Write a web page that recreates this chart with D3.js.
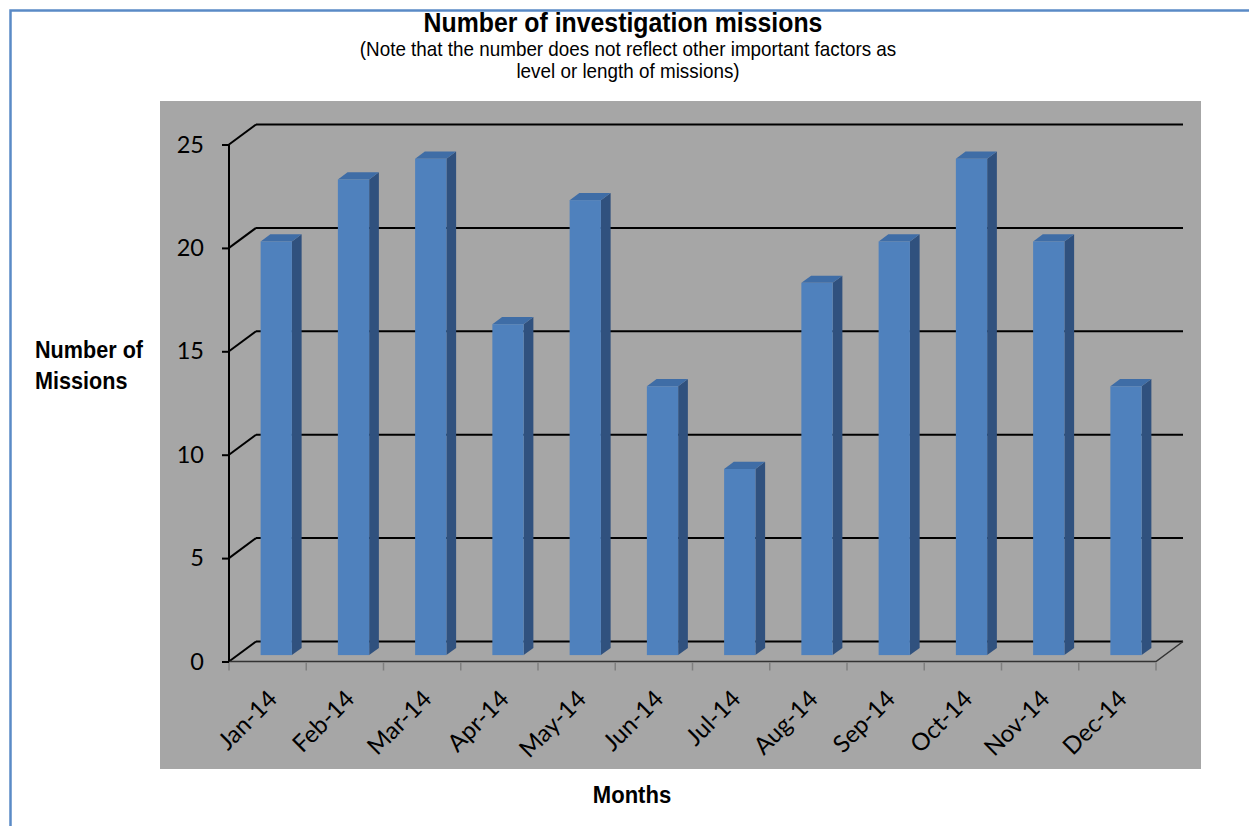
<!DOCTYPE html>
<html>
<head>
<meta charset="utf-8">
<script src="https://cdn.jsdelivr.net/npm/d3@7"></script>
<style>
  html, body { margin: 0; padding: 0; background: #fff; }
  svg { display: block; }
  .narrow { font-family: "Liberation Sans", Arial, sans-serif; }
  .tick { font-family: Lato, "Open Sans", sans-serif; }
</style>
</head>
<body>
<svg id="chart" width="1249" height="826"></svg>
<script>
const categories = ["Jan-14","Feb-14","Mar-14","Apr-14","May-14","Jun-14","Jul-14","Aug-14","Sep-14","Oct-14","Nov-14","Dec-14"];
const missions = [20, 23, 24, 16, 22, 13, 9, 18, 20, 24, 20, 13];
const yTicks = [0, 5, 10, 15, 20, 25];
const titleText = "Number of investigation missions";
const subtitleLines = ["(Note that the number does not reflect other important factors as", "level or length of missions)"];
const yTitleLines = ["Number of", "Missions"];
const xTitleText = "Months";

const svg = d3.select("#chart");
const W = 1249, H = 826;
const SX = 0.92; // condensed look (Arial Narrow-like)

// outer border (left & top)
svg.append("path")
  .attr("d", `M10.5,${H} L10.5,10.5 L${W},10.5`)
  .attr("fill", "none").attr("stroke", "#5a8ac6").attr("stroke-width", 2.5);

// plot area background
svg.append("rect").attr("x", 160).attr("y", 101).attr("width", 1041).attr("height", 668).attr("fill", "#a6a6a6");

// 3D geometry
const x0 = 229, x1 = 1156;
const dX = 27, dY = -20;
const x = d3.scaleBand().domain(categories).range([x0, x1]).padding(0);
const y = d3.scaleLinear().domain([0, 25]).range([661.5, 144.5]);
const band = x.bandwidth();

const g = svg.append("g");

// back wall gridlines
g.selectAll(".grid").data(yTicks).join("line")
  .attr("x1", x0 + dX).attr("x2", x1 + dX)
  .attr("y1", d => y(d) + dY).attr("y2", d => y(d) + dY)
  .attr("stroke", "#000").attr("stroke-width", 2);

// left wall diagonals
g.selectAll(".diag").data(yTicks).join("line")
  .attr("x1", x0).attr("x2", x0 + dX)
  .attr("y1", d => y(d)).attr("y2", d => y(d) + dY)
  .attr("stroke", "#000").attr("stroke-width", 2);

// floor front edge and right diagonal
g.append("path")
  .attr("d", `M${x0},${y(0)} L${x1},${y(0)} L${x1 + dX},${y(0) + dY}`)
  .attr("fill", "none").attr("stroke", "#333").attr("stroke-width", 1.5);

// x ticks
g.selectAll(".xt").data(d3.range(categories.length + 1)).join("line")
  .attr("x1", i => x0 + i * band).attr("x2", i => x0 + i * band)
  .attr("y1", y(0) + 1).attr("y2", y(0) + 9)
  .attr("stroke", "#7f7f7f").attr("stroke-width", 1.5);

// y axis
const yAxis = d3.axisLeft(y).tickValues(yTicks).tickSize(7).tickPadding(18);
const ya = svg.append("g").attr("transform", `translate(${x0},0)`).call(yAxis);
ya.select(".domain").attr("stroke", "#000").attr("stroke-width", 2).attr("d", `M0,${y(0)}V${y(25)}`);
ya.selectAll(".tick line").attr("stroke", "#000").attr("stroke-width", 2);
ya.selectAll(".tick text").attr("class", "tick").attr("font-size", 23.5).attr("fill", "#000");

// bars
const f0 = 0.32, f1 = 0.68, wFrac = 0.405;
const bw = band * wFrac;
const bars = svg.append("g").selectAll("g").data(categories.map((c, i) => ({c, v: missions[i]}))).join("g");
bars.each(function(d) {
  const gg = d3.select(this);
  const fx = x(d.c) + band / 2 - bw / 2 + f0 * dX;
  const fyTop = y(d.v) + f0 * dY;
  const fyBot = y(0) + f0 * dY;
  const ddx = (f1 - f0) * dX, ddy = (f1 - f0) * dY;
  gg.append("path")
    .attr("d", `M${fx + bw},${fyTop} L${fx + bw + ddx},${fyTop + ddy} L${fx + bw + ddx},${fyBot + ddy} L${fx + bw},${fyBot} Z`)
    .attr("fill", "#30517e");
  gg.append("path")
    .attr("d", `M${fx},${fyTop} L${fx + ddx},${fyTop + ddy} L${fx + bw + ddx},${fyTop + ddy} L${fx + bw},${fyTop} Z`)
    .attr("fill", "#3f6da6");
  gg.append("rect").attr("x", fx).attr("y", fyTop).attr("width", bw).attr("height", fyBot - fyTop)
    .attr("fill", "#4f81bd");
});

// x tick labels
svg.append("g").selectAll("text").data(categories).join("text")
  .attr("class", "tick")
  .attr("font-size", 24)
  .attr("text-anchor", "end")
  .attr("transform", d => `translate(${x(d) + band / 2 + 11},${y(0) + 39}) rotate(-45)`)
  .text(d => d);

// titles (condensed)
svg.append("text").attr("class", "narrow")
  .attr("transform", `translate(623,32) scale(${SX},1)`)
  .attr("text-anchor", "middle").attr("font-weight", "bold").attr("font-size", 27).text(titleText);
svg.append("g").selectAll("text").data(subtitleLines).join("text")
  .attr("class", "narrow")
  .attr("transform", (d, i) => `translate(628,${56 + i * 22}) scale(${SX},1)`)
  .attr("text-anchor", "middle").attr("font-size", 20.5).text(d => d);

svg.append("g").selectAll("text").data(yTitleLines).join("text")
  .attr("class", "narrow")
  .attr("transform", (d, i) => `translate(35,${358 + i * 31}) scale(${SX},1)`)
  .attr("font-weight", "bold").attr("font-size", 23.5).text(d => d);

svg.append("text").attr("class", "narrow")
  .attr("transform", `translate(632,803) scale(${SX},1)`)
  .attr("text-anchor", "middle").attr("font-weight", "bold").attr("font-size", 24).text(xTitleText);
</script>
</body>
</html>
